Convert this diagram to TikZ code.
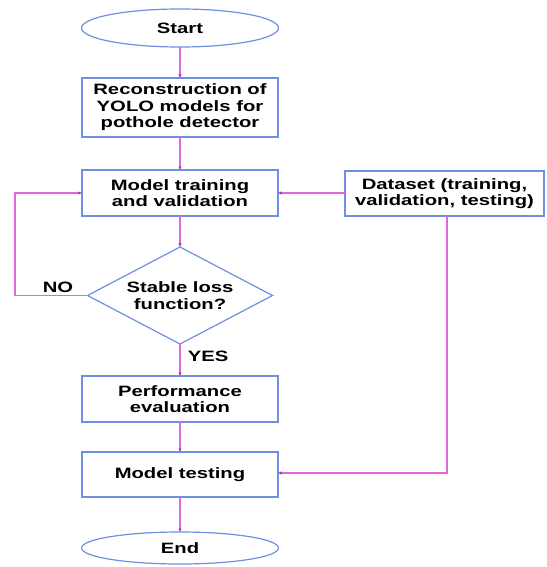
\documentclass[tikz,border=0pt]{standalone}
\usepackage{fontspec}
\setmainfont{Liberation Sans}[FakeStretch=1.35]
\usepackage{xcolor}
\usetikzlibrary{arrows.meta,positioning,shapes.geometric}
\definecolor{Frame}{HTML}{6F8FE2}
\definecolor{Link}{HTML}{E066E0}
\definecolor{Tip}{HTML}{A030C0}

\begin{document}
\begin{tikzpicture}[x=1pt,y=-1pt,
  node distance=31pt,
  stepbox/.style={draw=Frame, line width=1.2pt, fill=white, minimum width=196pt,
    minimum height=46pt, outer sep=0pt, align=center,
    font=\bfseries\fontsize{15}{16.5}\selectfont},
  term/.style={stepbox, ellipse, minimum width=197pt, minimum height=38pt},
  decide/.style={stepbox, diamond, aspect=1.9, inner sep=0pt,
    minimum width=185pt, minimum height=97pt},
  flow/.style={-{Latex[length=3.5pt,width=3.5pt,color=Tip]}, line width=1.3pt, draw=Link},
  tag/.style={font=\bfseries\fontsize{15}{16.5}\selectfont}
]
  \useasboundingbox (0,0) rectangle (546,567);
  \node[term] (start) at (180,28) {Start};
  \node[stepbox, minimum height=59pt, below=31pt of start] (rebuild) {Reconstruction of\\YOLO models for\\pothole detector};
  \node[stepbox, below=33pt of rebuild] (train) {Model training\\and validation};
  \node[decide, below=31pt of train] (stable) {Stable loss\\function?};
  \node[stepbox, below=32pt of stable] (perf) {Performance\\evaluation};
  \node[stepbox, minimum height=45pt, below=30pt of perf] (test) {Model testing};
  \node[term, minimum height=32pt, below=35pt of test] (finish) {End};
  \node[stepbox, minimum width=199pt, minimum height=45pt] (data) at (444.5,193.5) {Dataset (training,\\validation, testing)};

  \coordinate (loopL) at (15,0);
  \coordinate (dataD) at (447,0);

  \draw[flow] (start) -- (rebuild);
  \draw[flow] (rebuild) -- (train);
  \draw[flow] (train) -- (stable);
  \draw[flow] (stable) -- node[tag, right=4pt, pos=0.4]{YES} (perf);
  \draw[flow] (perf) -- (test);
  \draw[flow] (test) -- (finish);
  \draw[flow] (stable.west) -- (stable.west -| loopL) |- (train.west);
  \draw[flow] (data.west |- train.east) -- (train.east);
  \draw[flow] (dataD |- data.south) |- ([yshift=1.5pt]test.east);
  \node[tag] (no) at (58,287) {NO};
\end{tikzpicture}
\end{document}
